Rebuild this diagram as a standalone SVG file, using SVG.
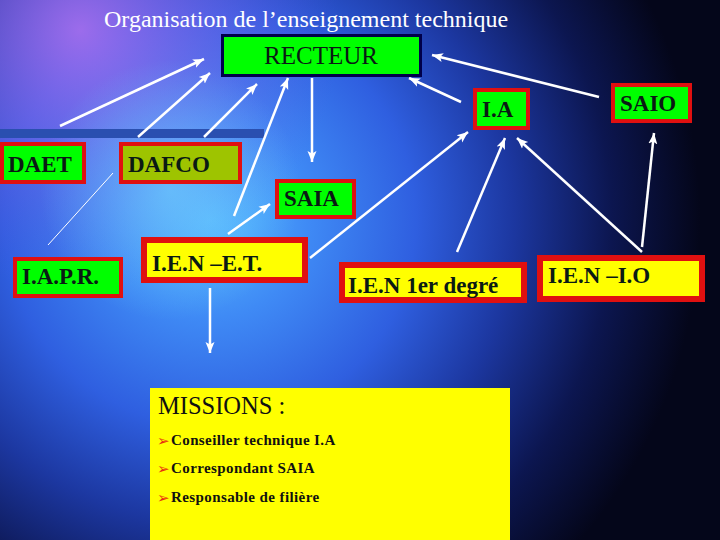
<svg xmlns="http://www.w3.org/2000/svg" width="720" height="540" viewBox="0 0 720 540">
<defs>
<radialGradient id="bg" cx="210" cy="220" r="490" gradientUnits="userSpaceOnUse">
<stop offset="0" stop-color="#55b8ff"/>
<stop offset="0.2" stop-color="#3f8af5"/>
<stop offset="0.42" stop-color="#2f5fe0"/>
<stop offset="0.62" stop-color="#1c37a0"/>
<stop offset="0.82" stop-color="#0c1650"/>
<stop offset="1" stop-color="#04061a"/>
</radialGradient>
<radialGradient id="purp" cx="80" cy="30" r="260" gradientUnits="userSpaceOnUse">
<stop offset="0" stop-color="#b070f0" stop-opacity="0.85"/>
<stop offset="0.6" stop-color="#8060e8" stop-opacity="0.35"/>
<stop offset="1" stop-color="#6050e0" stop-opacity="0"/>
</radialGradient>
<radialGradient id="cyan" cx="170" cy="190" r="130" gradientUnits="userSpaceOnUse">
<stop offset="0" stop-color="#70d8ff" stop-opacity="0.6"/>
<stop offset="1" stop-color="#70d8ff" stop-opacity="0"/>
</radialGradient>
<marker id="ah" markerUnits="userSpaceOnUse" markerWidth="12" markerHeight="12" viewBox="0 0 12 12" refX="11" refY="6" orient="auto">
<path d="M0,1.5 L11,6 L0,10.5 L2.5,6 Z" fill="#ffffff"/>
</marker>
<style>
.box{stroke:#e01010;stroke-width:4}
.thick{stroke-width:6}
.g{fill:#00ff00}
.y{fill:#ffff00}
.lbl{font-family:"Liberation Serif","Times New Roman",serif;font-weight:bold;font-size:23px;fill:#0a1a14}
.arr{stroke:#ffffff;stroke-width:2.5;fill:none;marker-end:url(#ah)}
.bul{font-family:"Liberation Serif","Times New Roman",serif;font-weight:bold;font-size:15px;fill:#111111;letter-spacing:0.4px}
.mk{font-family:"DejaVu Sans",sans-serif;font-size:15px;fill:#e83010}
</style>
</defs>
<rect x="0" y="0" width="720" height="540" fill="url(#bg)"/>
<rect x="0" y="0" width="720" height="540" fill="url(#purp)"/>
<rect x="0" y="0" width="720" height="540" fill="url(#cyan)"/>
<rect x="0" y="129" width="264" height="9" fill="#2a4fb0"/>
<text x="104" y="27" font-family="Liberation Serif, Times New Roman, serif" font-size="24" fill="#ffffff">Organisation de l’enseignement technique</text>

<g id="connectors">
<line class="arr" x1="60" y1="126" x2="204" y2="59"/>
<line class="arr" x1="138" y1="137" x2="210" y2="73"/>
<line class="arr" x1="204" y1="137" x2="257" y2="84"/>
<line class="arr" x1="234" y1="216" x2="288" y2="78"/>
<line class="arr" x1="312" y1="78" x2="312" y2="162"/>
<line class="arr" x1="461" y1="102" x2="409" y2="78"/>
<line class="arr" x1="599" y1="97" x2="432" y2="55"/>
<line class="arr" x1="310" y1="258" x2="468" y2="132"/>
<line class="arr" x1="457" y1="252" x2="505" y2="138"/>
<line class="arr" x1="642" y1="252" x2="517" y2="138"/>
<line class="arr" x1="642" y1="247" x2="654" y2="133"/>
<line class="arr" x1="228" y1="234" x2="270" y2="204"/>
<line class="arr" x1="210" y1="288" x2="210" y2="353"/>
<line x1="113" y1="173" x2="48" y2="245" stroke="#ffffff" stroke-width="1"/>
</g>

<g id="recteur">
<rect x="222.5" y="35.5" width="198" height="40" fill="#00ff00" stroke="#00004a" stroke-width="3"/>
<text x="321" y="64" text-anchor="middle" font-family="Liberation Serif, Times New Roman, serif" font-size="25" fill="#0a1a14">RECTEUR</text>
</g>
<g id="daet">
<rect class="box g" x="2" y="144" width="82" height="38"/>
<text class="lbl" x="8" y="172">DAET</text>
</g>
<g id="dafco">
<rect class="box" x="121" y="144" width="119" height="38" fill="#9ec400"/>
<text class="lbl" x="128" y="172">DAFCO</text>
</g>
<g id="ia">
<rect class="box g" x="475" y="90" width="53" height="38"/>
<text class="lbl" x="482" y="117">I.A</text>
</g>
<g id="saio">
<rect class="box g" x="613" y="85" width="77" height="36"/>
<text class="lbl" x="620" y="111">SAIO</text>
</g>
<g id="saia">
<rect class="box g" x="277" y="181" width="77" height="36"/>
<text class="lbl" x="284" y="206">SAIA</text>
</g>
<g id="iapr">
<rect class="box g" x="15" y="259" width="106" height="37"/>
<text class="lbl" x="22" y="284">I.A.P.R.</text>
</g>
<g id="ien-et">
<rect class="box thick y" x="144" y="240" width="161" height="40"/>
<text class="lbl" x="152" y="271">I.E.N –E.T.</text>
</g>
<g id="ien-1er">
<rect class="box thick y" x="342" y="265" width="182" height="35"/>
<text class="lbl" x="348" y="293">I.E.N 1er degré</text>
</g>
<g id="ien-io">
<rect class="box thick y" x="540" y="258" width="162" height="41"/>
<text class="lbl" x="548" y="283">I.E.N –I.O</text>
</g>
<g id="missions">
<rect x="150" y="388" width="360" height="152" fill="#ffff00"/>
<text x="158" y="414" font-family="Liberation Serif, Times New Roman, serif" font-size="24.5" fill="#111111">MISSIONS :</text>
<text class="mk" x="157" y="446">➢</text>
<text class="bul" x="171" y="445">Conseiller technique I.A</text>
<text class="mk" x="157" y="474">➢</text>
<text class="bul" x="171" y="473">Correspondant SAIA</text>
<text class="mk" x="157" y="503">➢</text>
<text class="bul" x="171" y="502">Responsable de filière</text>
</g>
</svg>
